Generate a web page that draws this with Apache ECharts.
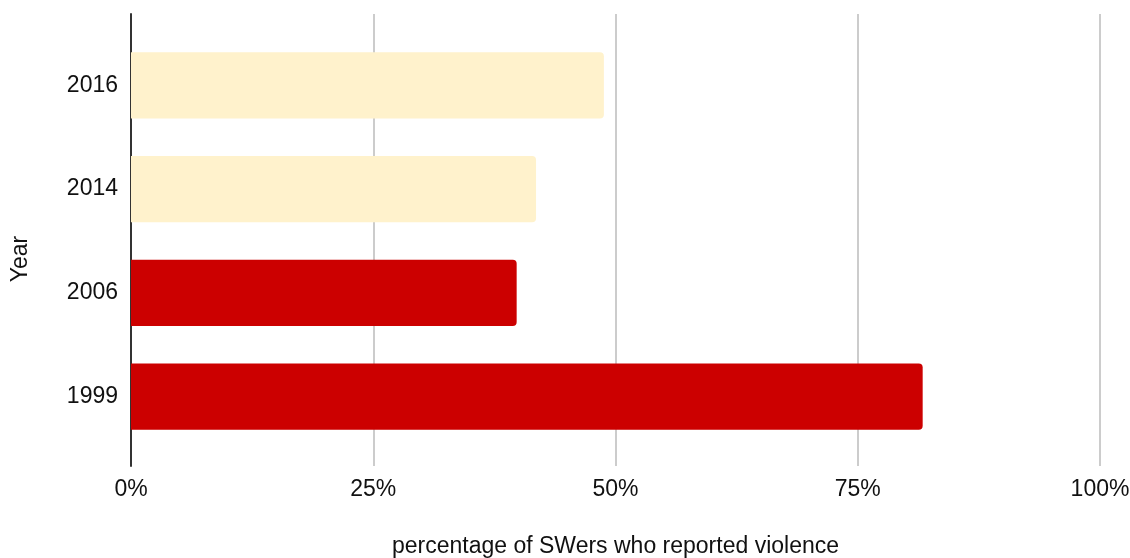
<!DOCTYPE html>
<html>
<head>
<meta charset="utf-8">
<script src="https://cdn.jsdelivr.net/npm/echarts@6/dist/echarts.min.js"></script>
<style>
html,body{margin:0;padding:0;background:#fff;}
#chart{width:1130px;height:558px;}
</style>
</head>
<body>
<div id="chart"></div>
<script>
const years = ['1999', '2006', '2014', '2016'];
const shares = [0.817, 0.398, 0.418, 0.488];
const period = ['early', 'early', 'recent', 'recent'];
const xTicks = [0, 0.25, 0.5, 0.75, 1];
const xTitle = 'percentage of SWers who reported violence';
const yTitle = 'Year';

const periodColor = { early: '#cc0000', recent: '#fff2cc' };
const FONT = 'Liberation Sans, Arial, sans-serif';
const FS = 23;

const chart = echarts.init(document.getElementById('chart'));
chart.setOption({
  animation: false,
  grid: [
    { left: 131, right: 30, top: 14, height: 452, outerBoundsMode: 'none', containLabel: false },
    { left: 131, right: 30, top: 33.5, height: 415, outerBoundsMode: 'none', containLabel: false }
  ],
  xAxis: [
    {
      gridIndex: 0, type: 'value', min: xTicks[0], max: xTicks[xTicks.length - 1], interval: 0.25,
      axisLine: { show: false }, axisTick: { show: false },
      splitLine: { show: true, lineStyle: { color: '#cccccc', width: 2 } },
      axisLabel: { margin: 12, fontSize: FS, color: '#111', fontFamily: FONT,
        formatter: v => Math.round(v * 100) + '%' },
      name: xTitle, nameLocation: 'middle', nameGap: 69,
      nameTextStyle: { fontSize: FS, color: '#111', fontFamily: FONT }
    },
    {
      gridIndex: 1, type: 'value', min: 0, max: 1, show: false
    }
  ],
  yAxis: [
    {
      gridIndex: 0, type: 'value', min: 0, max: 1,
      axisLine: { show: true, lineStyle: { color: '#333333', width: 2 } },
      axisTick: { show: false }, axisLabel: { show: false }, splitLine: { show: false },
      name: yTitle, nameLocation: 'middle', nameGap: 99, nameRotate: 90,
      nameTextStyle: { fontSize: FS, color: '#111', fontFamily: FONT, padding: [0, 38, 0, 0] }
    },
    {
      gridIndex: 1, type: 'category', data: years,
      axisLine: { show: false }, axisTick: { show: false },
      axisLabel: { margin: 13, fontSize: FS, color: '#111', fontFamily: FONT }
    }
  ],
  series: [{
    type: 'bar',
    xAxisIndex: 1, yAxisIndex: 1,
    barCategoryGap: '36%',
    data: shares.map((v, i) => ({
      value: v,
      itemStyle: { color: periodColor[period[i]], borderRadius: [0, 4, 4, 0] }
    })),
    z: 1
  }]
});
</script>
</body>
</html>
